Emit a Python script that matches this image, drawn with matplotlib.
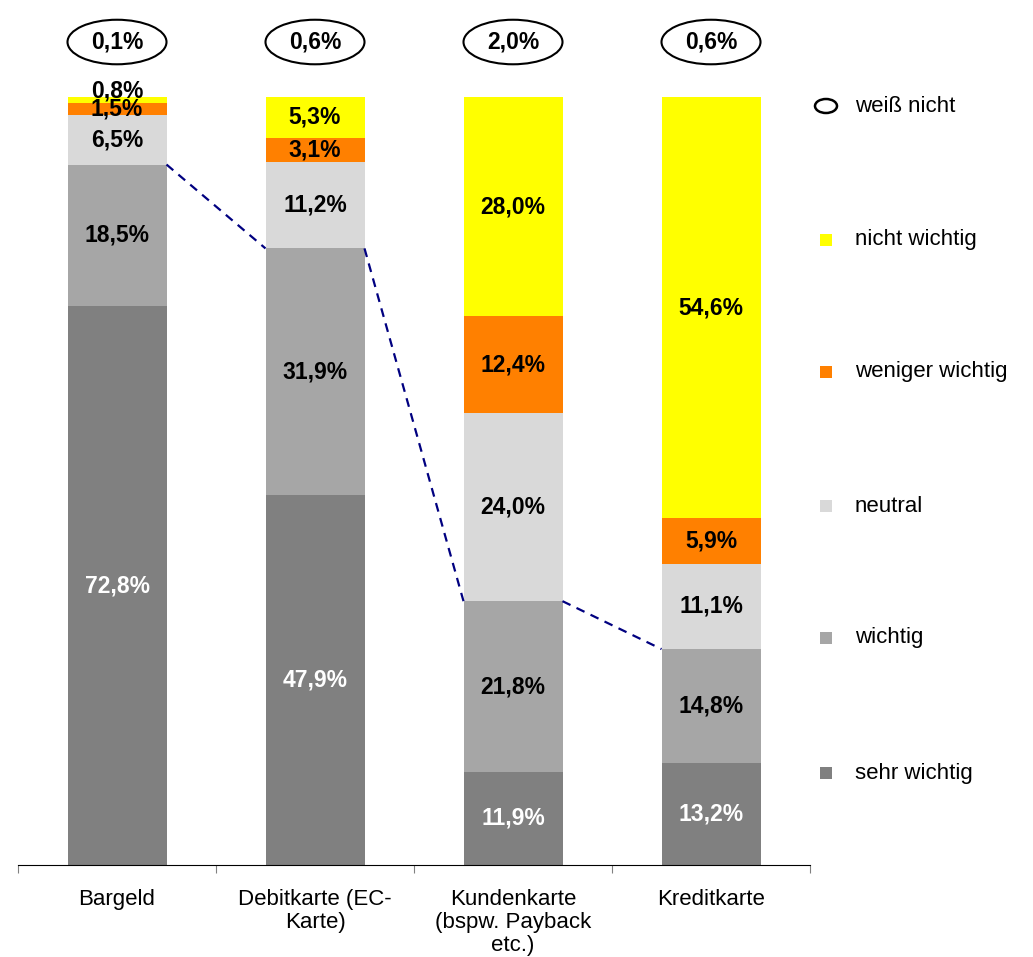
import matplotlib
matplotlib.use("Agg")
import matplotlib.pyplot as plt
from matplotlib.patches import Ellipse
import numpy as np

plt.rcParams["font.family"] = ["Liberation Sans", "DejaVu Sans"]

categories = ["Bargeld", "Debitkarte (EC-\nKarte)", "Kundenkarte\n(bspw. Payback\netc.)", "Kreditkarte"]
series_names = ["sehr wichtig", "wichtig", "neutral", "weniger wichtig", "nicht wichtig"]
sehr_wichtig = [72.8, 47.9, 11.9, 13.2]
wichtig = [18.5, 31.9, 21.8, 14.8]
neutral = [6.5, 11.2, 24.0, 11.1]
weniger_wichtig = [1.5, 3.1, 12.4, 5.9]
nicht_wichtig = [0.8, 5.3, 28.0, 54.6]
weiss_nicht = [0.1, 0.6, 2.0, 0.6]

colors = ["#808080", "#A6A6A6", "#D9D9D9", "#FF8000", "#FFFF00"]
label_colors = ["white", "black", "black", "black", "black"]

def fmt(v):
    return f"{v:.1f}%".replace(".", ",")

data = np.array([sehr_wichtig, wichtig, neutral, weniger_wichtig, nicht_wichtig])
totals = data.sum(axis=0)
shares = data / totals

fig = plt.figure(figsize=(10.33, 9.57), dpi=100)
ax = fig.add_axes([18 / 1033, 92 / 957, 792 / 1033, 768 / 957])

x = np.arange(len(categories))
bottom = np.zeros(len(categories))
for i, name in enumerate(series_names):
    ax.bar(x, shares[i], bottom=bottom, width=0.5, color=colors[i], edgecolor="none")
    for j in range(len(categories)):
        yc = bottom[j] + shares[i][j] / 2
        if shares[i][j] < 0.01:
            # tiny segment: label sits just above the bar, as in the original
            yc = bottom[j] + shares[i][j] + 0.008
        ax.text(x[j], yc, fmt(data[i][j]), ha="center", va="center",
                fontsize=16.5, fontweight="bold", color=label_colors[i])
    bottom += shares[i]

# dashed connector over top of "wichtig"
cum = shares[0] + shares[1]
for j in range(len(categories) - 1):
    ax.plot([x[j] + 0.25, x[j + 1] - 0.25], [cum[j], cum[j + 1]],
            linestyle=(0, (4, 3)), color="#000080", linewidth=1.6)

# "weiß nicht" ellipses
for j in range(len(categories)):
    ax.add_patch(Ellipse((x[j], 1.0716), 0.5, 0.058, facecolor="white",
                         edgecolor="black", linewidth=1.5, clip_on=False))
    ax.text(x[j], 1.0716, fmt(weiss_nicht[j]), ha="center", va="center",
            fontsize=16.5, fontweight="bold")

ax.set_xlim(-0.5, 3.5)
ax.set_ylim(0, 1)
for s in ["left", "right", "top"]:
    ax.spines[s].set_visible(False)
ax.spines["bottom"].set_color("black")
ax.set_yticks([])
ax.set_xticks(np.arange(-0.5, 4.0, 1.0))
ax.set_xticklabels([])
ax.tick_params(axis="x", which="major", length=6, color="#808080")
ax.set_xticks(x, minor=True)
ax.set_xticklabels(categories, minor=True, fontsize=16, linespacing=1.15)
ax.tick_params(axis="x", which="minor", length=0, pad=17)

# legend on the right
leg_y = [106, 240, 372, 506, 638, 773]
leg_labels = ["weiß nicht"] + series_names[::-1]
leg_colors = [None] + colors[::-1]
for k, lab in enumerate(leg_labels):
    yf = 1 - leg_y[k] / 957
    if leg_colors[k] is None:
        fig.patches.append(Ellipse((826 / 1033, yf), 22 / 1033, 14 / 957,
                                   facecolor="white", edgecolor="black",
                                   linewidth=1.8, transform=fig.transFigure))
    else:
        fig.patches.append(plt.Rectangle(((826 - 6) / 1033, yf - 6 / 957), 12 / 1033, 12 / 957,
                                         facecolor=leg_colors[k], edgecolor="none",
                                         transform=fig.transFigure))
    fig.text(855 / 1033, yf, lab, ha="left", va="center", fontsize=16)

fig.savefig("out.png", dpi=100)
